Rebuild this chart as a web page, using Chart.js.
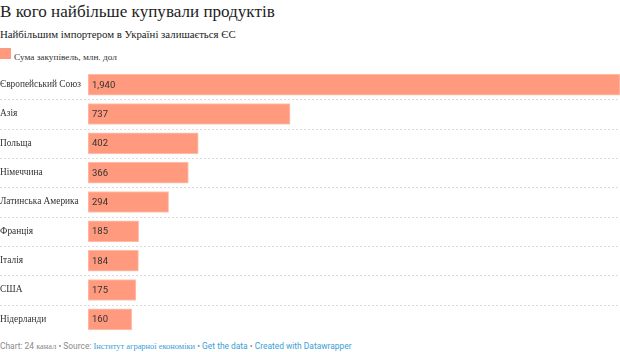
<!DOCTYPE html>
<html>
<head>
<meta charset="utf-8">
<script src="https://cdn.jsdelivr.net/npm/chart.js@4"></script>
<style>
  body { margin: 0; width: 620px; height: 352px; background: #fff; position: relative; overflow: hidden; }
  .txt { position: absolute; left: 0; white-space: nowrap; line-height: 1; }
  #title { font-family: "Liberation Serif", serif; color: #1d1d1d; }
  #sub { font-family: "Liberation Serif", serif; color: #222; }
  #legend { left: 14px; font-family: "Liberation Serif", serif; color: #333; }
  #swatch { position: absolute; left: 0; top: 48px; width: 11px; height: 11px; background: #ff9a7e; }
  #wrap { position: absolute; left: 0; top: 70px; width: 620px; height: 264px; }
  #foot { font-family: Roboto, sans-serif; color: #8a8a8a; }
  #foot .s { font-family: "Liberation Serif", serif; }
  #foot .l { color: #3a9fd6; }
</style>
</head>
<body>
<div id="title" class="txt">В кого найбільше купували продуктів</div>
<div id="sub" class="txt">Найбільшим імпортером в Україні залишається ЄС</div>
<div id="swatch"></div>
<div id="legend" class="txt">Сума закупівель, млн. дол</div>
<div id="wrap"><canvas id="myChart"></canvas></div>
<div id="foot" class="txt">Chart: 24 <span class="s">канал</span> • Source: <span class="l s">Інститут аграрної економіки</span> • <span class="l">Get the data</span> • <span class="l">Created with Datawrapper</span></div>
<script>
var countries = ['Європейський Союз', 'Азія', 'Польща', 'Німеччина', 'Латинська Америка', 'Франція', 'Італія', 'США', 'Нідерланди'];
var purchases = [1940, 737, 402, 366, 294, 185, 184, 175, 160];
var valueLabels = ['1,940', '737', '402', '366', '294', '185', '184', '175', '160'];

// size each text block so it spans the same width as in the picture, then put its baseline in place
function fitText(id, width, baseline) {
    var el = document.getElementById(id);
    el.style.fontSize = '20px';
    var fs = 20 * width / el.getBoundingClientRect().width;
    el.style.fontSize = fs + 'px';
    el.style.top = (baseline - 0.84 * fs) + 'px';
}
fitText('title', 275, 17.5);
fitText('sub', 236, 38.5);
fitText('legend', 103, 60.5);
fitText('foot', 352, 349);

// font size for the category labels, so "Європейський Союз" is ~81px wide
var mc = document.createElement('canvas').getContext('2d');
mc.font = '20px "Liberation Serif"';
var labelSize = 20 * 81 / mc.measureText(countries[0]).width;

// dashed separators between rows
const rowLines = {
    id: 'rowLines',
    beforeDatasetsDraw(chart) {
        const {ctx, scales: {y}} = chart;
        ctx.save();
        ctx.strokeStyle = '#dcdcdc';
        ctx.lineWidth = 1;
        ctx.setLineDash([2, 2]);
        for (var i = 0; i < countries.length - 1; i++) {
            var yy = Math.round((y.getPixelForValue(i) + y.getPixelForValue(i + 1)) / 2) + 0.5;
            ctx.beginPath();
            ctx.moveTo(0, yy);
            ctx.lineTo(chart.width, yy);
            ctx.stroke();
        }
        ctx.restore();
    }
};

// values written inside the bars
const barValues = {
    id: 'barValues',
    afterDatasetsDraw(chart) {
        const {ctx, scales: {x, y}} = chart;
        ctx.save();
        ctx.fillStyle = '#333';
        ctx.font = '9.5px Roboto, sans-serif';
        ctx.textBaseline = 'middle';
        for (var i = 0; i < purchases.length; i++) {
            ctx.fillText(valueLabels[i], x.getPixelForValue(0) + 4, y.getPixelForValue(i) + 0.5);
        }
        ctx.restore();
    }
};

const config = {
    type: 'bar',
    data: {
        labels: countries,
        datasets: [{
            data: purchases,
            backgroundColor: '#ff9a7e',
            borderColor: '#ffc4b4',
            borderWidth: 1,
            borderSkipped: false,
            barThickness: 21
        }]
    },
    plugins: [rowLines, barValues],
    options: {
        responsive: true,
        maintainAspectRatio: false,
        animation: false,
        layout: { padding: 0 },
        indexAxis: 'y',
        plugins: {
            legend: { display: false },
            tooltip: { enabled: false }
        },
        scales: {
            x: {
                display: false,
                min: 0,
                max: 1940
            },
            y: {
                afterFit(scale) {
                    scale.width = 88;
                    scale.paddingTop = 0;
                    scale.paddingBottom = 0;
                },
                grid: { display: false },
                border: { display: false },
                ticks: {
                    crossAlign: 'far',
                    padding: 0,
                    color: '#333',
                    font: { family: 'Liberation Serif', size: labelSize }
                }
            }
        }
    }
};

var myChart = new Chart(document.getElementById('myChart'), config);
</script>
</body>
</html>
